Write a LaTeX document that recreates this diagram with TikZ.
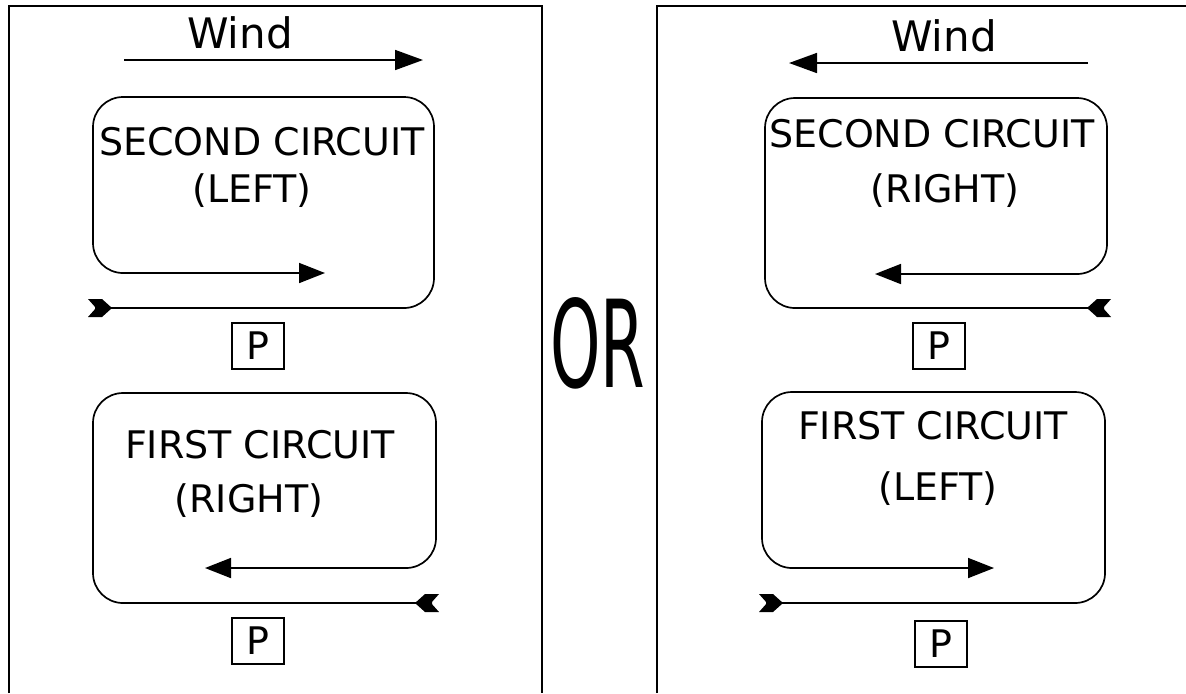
\documentclass[tikz,border=0pt]{standalone}
\usepackage{fontspec}
\setmainfont{DejaVu Sans}
\usetikzlibrary{arrows.meta}
\tikzset{
  circ/.style={line width=0.85pt, rounded corners=15pt, -{Triangle[length=13pt,width=10pt]}},
  windarrow/.style={line width=0.85pt, -{Triangle[length=14pt,width=10pt]}},
  panel/.style={line width=0.6pt},
  lbl/.style={anchor=base, inner sep=0pt, font=\fontsize{19}{21}\selectfont},
  windlbl/.style={anchor=base, inner sep=0pt, font=\fontsize{21}{23}\selectfont},
  pbox/.style={draw, line width=0.7pt, minimum width=26pt, minimum height=23pt,
    inner sep=0pt, font=\fontsize{19}{21}\selectfont},
  tailmark/.pic={\fill (-6pt,-4.5pt) -- (1pt,-4.5pt) -- (6pt,0pt) -- (1pt,4.5pt) -- (-6pt,4.5pt) -- (-2pt,0pt) -- cycle;},
}
\begin{document}
\begin{tikzpicture}[x=0.5pt,y=-0.5pt]
\useasboundingbox (0,0) rectangle (1186,693);
% panels
\draw[panel] (9,693) -- (9,6) -- (542,6) -- (542,693);
\draw[panel] (657,693) -- (657,6) -- (1190,6);
% OR
\node[inner sep=0pt] (or) at (597.5,343) {\resizebox{47.5pt}{45pt}{OR}};
% ---------- left panel ----------
\node[windlbl] (windL) at (240,48) {Wind};
\coordinate (wLs) at (124,60);
\coordinate (wLe) at (423,60);
\draw[windarrow] (wLs) -- (wLe);
\draw[circ] (95,308) -- (434,308) -- (434,97) -- (93,97) -- (93,273) -- (325,273);
\pic at (100,308) {tailmark};
\node[lbl] (s2L) at (262,155) {SECOND CIRCUIT};
\node[lbl] (s2Lb) at (252,202) {(LEFT)};
\node[pbox] (p1L) at (258,346) {P};
\draw[circ] (432,603) -- (93,603) -- (93,393) -- (436,393) -- (436,568) -- (205,568);
\pic[rotate=180] at (427,603) {tailmark};
\node[lbl] (f1L) at (260,458) {FIRST CIRCUIT};
\node[lbl] (f1Lb) at (249,512) {(RIGHT)};
\node[pbox] (p2L) at (258,641) {P};
% ---------- right panel ----------
\node[windlbl] (windR) at (944,51) {Wind};
\coordinate (wRs) at (1088,63);
\coordinate (wRe) at (789,63);
\draw[windarrow] (wRs) -- (wRe);
\draw[circ] (1104,308) -- (765,308) -- (765,98) -- (1107,98) -- (1107,274) -- (875,274);
\pic[rotate=180] at (1099,308) {tailmark};
\node[lbl] (s2R) at (932,147) {SECOND CIRCUIT};
\node[lbl] (s2Rb) at (945,202) {(RIGHT)};
\node[pbox] (p1R) at (939,346) {P};
\draw[circ] (766,603) -- (1105,603) -- (1105,392) -- (762,392) -- (762,568) -- (994,568);
\pic at (771,603) {tailmark};
\node[lbl] (f1R) at (933,439) {FIRST CIRCUIT};
\node[lbl] (f1Rb) at (938,500) {(LEFT)};
\node[pbox] (p2R) at (941,644) {P};
\end{tikzpicture}
\end{document}
